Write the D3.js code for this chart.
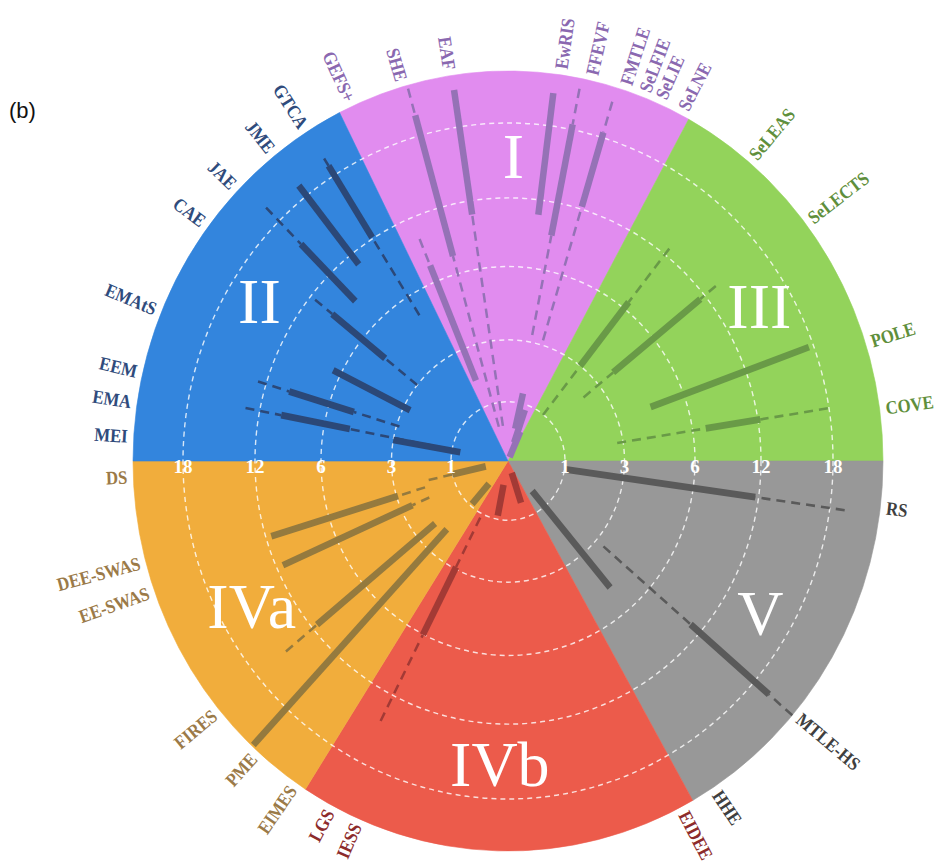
<!DOCTYPE html>
<html>
<head>
<meta charset="utf-8">
<script src="https://cdn.jsdelivr.net/npm/d3@7"></script>
<style>
  body { margin: 0; background: #ffffff; }
  svg { display: block; }
</style>
</head>
<body>
<svg id="chart" width="943" height="867"></svg>
<script>
// ---- Sector groups (bearing in degrees, clockwise from 12 o'clock) ----
const groupNames = ["I", "III", "V", "IVb", "IVa", "II"];
const groupFrom  = [-26.7, 28.8, 90, 150.5, 212.7, 270];
const groupTo    = [28.8, 90, 150.5, 212.7, 270, 333.3];

// ---- Items: name, group, bearing of the bar, bearing of its label ----
const items = ["GEFS+", "SHE", "EAF", "EwRIS", "FFEVF", "FMTLE", "SeLFIE", "SeLIE", "SeLNE",
               "GTCA", "JME", "JAE", "CAE", "EMAtS", "EEM", "EMA", "MEI",
               "SeLEAS", "SeLECTS", "POLE", "COVE",
               "RS", "MTLE-HS", "HHE",
               "EIDEE", "IESS", "LGS",
               "EIMES", "PME", "FIRES", "EE-SWAS", "DEE-SWAS", "DS"];
const itemGroup = ["I", "I", "I", "I", "I", "I", "I", "I", "I",
                   "II", "II", "II", "II", "II", "II", "II", "II",
                   "III", "III", "III", "III",
                   "V", "V", "V",
                   "IVb", "IVb", "IVb",
                   "IVa", "IVa", "IVa", "IVa", "IVa", "IVa"];
const bearing = [-22.5, -15.6, -8.6, 7.3, 11.3, 16.8, 13, 19, 23.5,
                 -32.3, -38.3, -44.8, -51.2, -63.5, -73, -79, -80,
                 38.3, 51, 70, 81,
                 98, 130.7, 140,
                 162, 191, 207,
                 221, 223, 230.5, 246, 253, 257];
const labelBearing = [-24.5, -16.2, -8.8, 8.0, 12.7, 18.0, 21.0, 23.6, 27.3,
                      -32.4, -38.4, -46, -53, -67.5, -76.9, -81.4, -86.4,
                      39.9, 52.4, 72.4, 82.3,
                      96.8, 130.2, 146.7,
                      152.5, 203.5, 208,
                      214.5, 221.9, 230.4, 250.6, 255.1, 267.7];

// ---- Values (months): full range (dashed) and core range (thick bar) ----
const rangeLow  = [1.9, 0.6, 0.6, 10.7, 3.3, 3.2, 0.56, 0.33, 0.07,
                   5.1, 10.9, 8.7, 3.0, 2.76, 2.9, 1.14, 0.85,
                   0.99, 2.35, 4.5, 2.8,
                   1.03, 3.4, 0.66,
                   0.21, 0.41, 1.14,
                   0.51, 2.1, 2.26, 1.98, 2.0, 0.4];
const coreLow   = [1.9, 7.6, 10.8, 10.7, 9.1, 12.2, 0.56, 0.33, 0.07,
                   12.1, 10.9, 8.7, 4.75, 2.76, 4.9, 4.9, 0.85,
                   3.0, 3.8, 4.5, 7.2,
                   1.03, 10.9, 0.66,
                   0.21, 0.41, 2.93,
                   0.51, 2.1, 2.26, 2.6, 2.95, 0.4];
const coreHigh  = [7.5, 20.4, 22.3, 21.8, 18.6, 18.6, 1.32, 0.91, 0.54,
                   19.3, 19.5, 15.4, 9.5, 6.76, 9.8, 10.0, 3.0,
                   6.7, 11.5, 17.6, 12.2,
                   11.7, 20.3, 4.8,
                   0.74, 0.94, 6.05,
                   0.96, 23.8, 11.5, 11.4, 11.5, 1.01];
const rangeHigh = [10.0, 23.6, 22.3, 21.8, 22.8, 22.3, 1.32, 0.91, 0.54,
                   20.3, 19.5, 20.2, 11.5, 6.76, 12.7, 13.2, 3.0,
                   12.6, 13.2, 17.6, 17.9,
                   19.8, 24, 4.8,
                   0.74, 0.94, 14.3,
                   0.96, 23.8, 14.9, 11.4, 11.5, 1.82];

// ---- Radial tick values ----
const ringTicks = [1, 3, 6, 12, 18];

// ---- Styling ----
const palette = {
  "I":   { fill: "#e18cef", line: "#9572b6", text: "#8a68b0" },
  "II":  { fill: "#3385dd", line: "#2b4878", text: "#2f4b7c" },
  "III": { fill: "#93d35b", line: "#699a47", text: "#5f8f3c" },
  "V":   { fill: "#989898", line: "#5a5a5a", text: "#3f3f3f" },
  "IVb": { fill: "#ec5b4b", line: "#a33a35", text: "#8d2b2b" },
  "IVa": { fill: "#f1ad3c", line: "#957a3e", text: "#9b7a48" }
};

const cx = 508, cy = 461, R = 375, stretch = 1.04;
const serif = "'Liberation Serif', 'Times New Roman', serif";
const rad = d => d * Math.PI / 180;

// piecewise radial scale: value -> radius
const rScale = d3.scaleLinear()
  .domain([0, 1, 3, 6, 12, 18, 24])
  .range([0, 57, 116.5, 187, 253, 325, R]);

const svg = d3.select("#chart");

// panel tag
svg.append("text")
  .attr("x", 9).attr("y", 118)
  .attr("font-family", "'Liberation Sans', Arial, sans-serif")
  .attr("font-size", 22)
  .attr("fill", "#111")
  .text("(b)");

// geometry group (slightly taller than wide)
const g = svg.append("g")
  .attr("transform", `translate(${cx},${cy}) scale(1,${stretch})`);

const arc = d3.arc().innerRadius(0).outerRadius(R);
g.selectAll("path.sector")
  .data(groupNames)
  .join("path")
  .attr("class", "sector")
  .attr("d", (d, i) => arc({ startAngle: rad(groupFrom[i]), endAngle: rad(groupTo[i]) }))
  .attr("fill", d => palette[d].fill)
  .attr("stroke", d => palette[d].fill)
  .attr("stroke-width", 0.6);

// dashed reference rings
g.selectAll("circle.ring")
  .data(ringTicks)
  .join("circle")
  .attr("class", "ring")
  .attr("r", d => rScale(d))
  .attr("fill", "none")
  .attr("stroke", "#ffffff")
  .attr("stroke-opacity", 0.8)
  .attr("stroke-width", 1.4)
  .attr("stroke-dasharray", "5 4");

// polar -> cartesian inside the geometry group
const pt = (b, v) => {
  const r = rScale(v);
  return [r * Math.sin(rad(b)), -r * Math.cos(rad(b))];
};

// dashed whiskers (outside the core range)
const whiskers = [];
items.forEach((name, i) => {
  if (rangeLow[i] < coreLow[i]) whiskers.push({ i, a: coreLow[i], b: rangeLow[i] });
  if (rangeHigh[i] > coreHigh[i]) whiskers.push({ i, a: coreHigh[i], b: rangeHigh[i] });
});
g.selectAll("line.whisker")
  .data(whiskers)
  .join("line")
  .attr("class", "whisker")
  .attr("x1", d => pt(bearing[d.i], d.b)[0])
  .attr("y1", d => pt(bearing[d.i], d.b)[1])
  .attr("x2", d => pt(bearing[d.i], d.a)[0])
  .attr("y2", d => pt(bearing[d.i], d.a)[1])
  .attr("stroke", d => palette[itemGroup[d.i]].line)
  .attr("stroke-width", 2.5)
  .attr("stroke-dasharray", "9 6");

// thick core bars
g.selectAll("line.core")
  .data(items.map((n, i) => i))
  .join("line")
  .attr("class", "core")
  .attr("x1", i => pt(bearing[i], coreLow[i])[0])
  .attr("y1", i => pt(bearing[i], coreLow[i])[1])
  .attr("x2", i => pt(bearing[i], coreHigh[i])[0])
  .attr("y2", i => pt(bearing[i], coreHigh[i])[1])
  .attr("stroke", i => palette[itemGroup[i]].line)
  .attr("stroke-width", 6.5);

// radial tick labels on both horizontal radii
const tickData = [];
ringTicks.forEach(t => { tickData.push({ t, side: 1 }); tickData.push({ t, side: -1 }); });
svg.selectAll("text.tick")
  .data(tickData)
  .join("text")
  .attr("class", "tick")
  .attr("x", d => cx + d.side * rScale(d.t))
  .attr("y", cy + 12)
  .attr("text-anchor", "middle")
  .attr("font-family", serif)
  .attr("font-weight", "bold")
  .attr("font-size", 19)
  .attr("fill", "#ffffff")
  .text(d => d.t);

// sector names
svg.selectAll("text.sector-name")
  .data(groupNames)
  .join("text")
  .attr("class", "sector-name")
  .attr("x", (d, i) => cx + 292 * Math.sin(rad((groupFrom[i] + groupTo[i]) / 2)))
  .attr("y", (d, i) => cy - 292 * stretch * Math.cos(rad((groupFrom[i] + groupTo[i]) / 2)))
  .attr("dy", "0.33em")
  .attr("text-anchor", "middle")
  .attr("font-family", serif)
  .attr("font-size", 64)
  .attr("fill", "#ffffff")
  .text(d => d);

// item labels around the rim
const gap = 6;
svg.selectAll("text.item")
  .data(items.map((n, i) => i))
  .join("text")
  .attr("class", "item")
  .attr("transform", i => {
    const b = ((labelBearing[i] % 360) + 360) % 360;
    const x = cx + (R + gap) * Math.sin(rad(b));
    const y = cy - (R * stretch + gap) * Math.cos(rad(b));
    const rot = b < 180 ? b - 90 : b + 90;
    return `translate(${x},${y}) rotate(${rot}) scale(0.88,1)`;
  })
  .attr("text-anchor", i => ((((labelBearing[i] % 360) + 360) % 360) < 180 ? "start" : "end"))
  .attr("dy", "0.35em")
  .attr("font-family", serif)
  .attr("font-weight", "bold")
  .attr("font-size", 19)
  .attr("fill", i => palette[itemGroup[i]].text)
  .text(i => items[i]);
</script>
</body>
</html>
